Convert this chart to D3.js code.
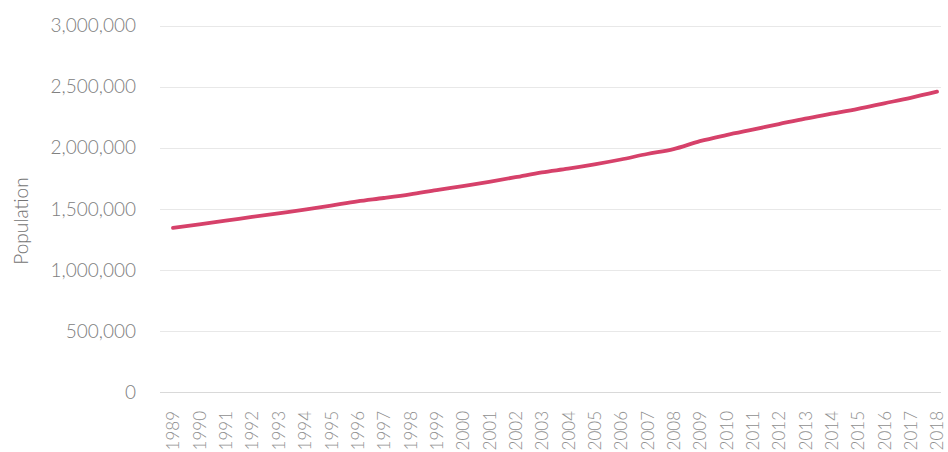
<!DOCTYPE html>
<html>
<head>
<meta charset="utf-8">
<script src="https://cdn.jsdelivr.net/npm/d3@7"></script>
<style>
  html, body { margin: 0; padding: 0; background: #fff; }
  svg { display: block; }
</style>
</head>
<body>
<svg id="chart" width="948" height="452"></svg>
<script>
// Population by year, 1989–2018
const years = [1989, 1990, 1991, 1992, 1993, 1994, 1995, 1996, 1997, 1998,
               1999, 2000, 2001, 2002, 2003, 2004, 2005, 2006, 2007, 2008,
               2009, 2010, 2011, 2012, 2013, 2014, 2015, 2016, 2017, 2018];
const population = [1345000, 1375000, 1405000, 1435000, 1465000, 1495000, 1528000, 1562000, 1590000, 1620000,
                    1655000, 1688000, 1722000, 1760000, 1800000, 1830000, 1865000, 1905000, 1950000, 1990000,
                    2055000, 2105000, 2150000, 2195000, 2240000, 2280000, 2320000, 2365000, 2410000, 2460000];
const yTicks = [0, 500000, 1000000, 1500000, 2000000, 2500000, 3000000];
const yTitle = "Population";

const svg = d3.select("#chart");

const x = d3.scalePoint()
  .domain(years)
  .range([173, 937]);

const y = d3.scaleLinear()
  .domain([0, 3000000])
  .range([392.3, 25.7]);

// horizontal gridlines
svg.append("g")
  .selectAll("line")
  .data(yTicks)
  .join("line")
  .attr("x1", 160)
  .attr("x2", 941)
  .attr("y1", d => Math.round(y(d)) + 0.5)
  .attr("y2", d => Math.round(y(d)) + 0.5)
  .attr("stroke", d => d === 0 ? "#d9d9d9" : "#e8e8e8")
  .attr("stroke-width", 1);

// y axis labels
const yAxis = d3.axisLeft(y)
  .tickValues(yTicks)
  .tickFormat(d3.format(","))
  .tickSize(0)
  .tickPadding(0);

svg.append("g")
  .attr("transform", "translate(136,0)")
  .call(yAxis)
  .call(g => g.select(".domain").remove())
  .call(g => g.selectAll("text")
    .attr("fill", "#808080")
    .attr("font-family", "Lato, 'Open Sans', sans-serif")
    .attr("font-weight", 300)
    .attr("font-size", 19));

// x axis labels, rotated
const xAxis = d3.axisBottom(x)
  .tickSize(0)
  .tickPadding(0);

svg.append("g")
  .attr("transform", "translate(0,411)")
  .call(xAxis)
  .call(g => g.select(".domain").remove())
  .call(g => g.selectAll("text")
    .attr("fill", "#8f8f8f")
    .attr("font-family", "Lato, 'Open Sans', sans-serif")
    .attr("font-weight", 300)
    .attr("font-size", 17)
    .attr("text-anchor", "end")
    .attr("dy", "0.35em")
    .attr("transform", "rotate(-90)")
    .attr("x", 0)
    .attr("y", 0));

// y axis title
svg.append("text")
  .attr("transform", "translate(28,221) rotate(-90)")
  .attr("text-anchor", "middle")
  .attr("fill", "#737373")
  .attr("font-family", "Lato, 'Open Sans', sans-serif")
  .attr("font-weight", 300)
  .attr("font-size", 19)
  .text(yTitle);

// population line
const line = d3.line()
  .x((d, i) => x(years[i]))
  .y(d => y(d))
  .curve(d3.curveMonotoneX);

svg.append("path")
  .datum(population)
  .attr("d", line)
  .attr("fill", "none")
  .attr("stroke", "#d6416a")
  .attr("stroke-width", 3.8)
  .attr("stroke-linecap", "round")
  .attr("stroke-linejoin", "round");
</script>
</body>
</html>
